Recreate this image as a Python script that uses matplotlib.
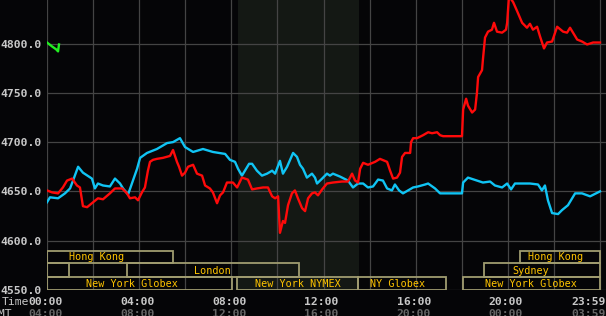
import numpy as np
import matplotlib.pyplot as plt
from matplotlib.patches import Rectangle
from matplotlib.transforms import blended_transform_factory

# hours since 00:00 and price
green_t = [0.0, 0.22, 0.40, 0.48, 0.52]
green_v = [4801, 4797, 4794, 4792, 4799]

cyan_t = [0.0, 0.13, 0.48, 0.78, 1.0, 1.13, 1.35, 1.56, 1.95, 2.08, 2.21, 2.43, 2.73,
          2.95, 3.17, 3.30, 3.52, 3.73, 3.91, 4.04, 4.34, 4.77, 5.21, 5.47, 5.77, 5.99,
          6.34, 6.77, 7.20, 7.73, 7.94, 8.16, 8.29, 8.46, 8.59, 8.77, 8.90, 9.11, 9.33,
          9.55, 9.77, 9.90, 10.11, 10.24, 10.42, 10.68, 10.85, 10.98, 11.11, 11.28,
          11.50, 11.63, 11.72, 11.94, 12.15, 12.28, 12.41, 12.72, 13.06, 13.28, 13.50,
          13.72, 13.93, 14.15, 14.37, 14.58, 14.76, 14.97, 15.10, 15.28, 15.45, 15.67,
          15.89, 16.10, 16.41, 16.54, 16.84, 17.06, 18.01, 18.06, 18.27, 18.66, 18.92,
          19.23, 19.44, 19.75, 19.97, 20.14, 20.31, 20.53, 20.96, 21.31, 21.48, 21.61,
          21.74, 21.92, 22.18, 22.35, 22.61, 22.92, 23.22, 23.57, 24.0]
cyan_v = [4639, 4644, 4643, 4648, 4653, 4661, 4675, 4669, 4663, 4653, 4658, 4656, 4655,
          4663, 4658, 4653, 4647, 4661, 4673, 4684, 4689, 4693, 4699, 4700, 4704, 4695,
          4690, 4693, 4690, 4688, 4682, 4680, 4673, 4666, 4671, 4678, 4678, 4671, 4666,
          4668, 4671, 4668, 4681, 4668, 4675, 4689, 4685, 4677, 4673, 4664,
          4668, 4664, 4658, 4663, 4668, 4666, 4668, 4665, 4661, 4654, 4658,
          4658, 4654, 4655, 4662, 4661, 4653, 4651, 4657, 4651, 4648, 4651,
          4654, 4655, 4657, 4658, 4653, 4648, 4648, 4659, 4664, 4661, 4659,
          4660, 4656, 4654, 4658, 4652, 4658, 4658, 4658, 4657, 4651, 4656,
          4641, 4628, 4627, 4631, 4636, 4648, 4648, 4645, 4650]

red_t = [0.0, 0.22, 0.48, 0.69, 0.87, 1.09, 1.30, 1.43, 1.56, 1.74, 1.95, 2.21, 2.43,
         2.73, 2.95, 3.26, 3.47, 3.60, 3.82, 3.95, 4.12, 4.25, 4.38, 4.47, 4.60, 4.77,
         5.03, 5.34, 5.47, 5.64, 5.73, 5.86, 5.99, 6.12, 6.34, 6.51, 6.73, 6.86, 7.07,
         7.20, 7.38, 7.51, 7.64, 7.81, 8.07, 8.25, 8.46, 8.72, 8.90, 9.11, 9.38, 9.59,
         9.77, 9.90, 10.03, 10.11, 10.24, 10.33, 10.46, 10.63, 10.76, 10.89, 11.07,
         11.20, 11.33, 11.50, 11.63, 11.76, 11.94, 12.15, 12.41, 12.80, 13.06, 13.24,
         13.37, 13.50, 13.59, 13.72, 13.93, 14.24, 14.45, 14.76, 14.89, 15.02, 15.19,
         15.32, 15.41, 15.54, 15.76, 15.80, 15.89, 16.06, 16.32, 16.54, 16.71, 16.93,
         17.06, 17.19, 18.01, 18.06, 18.19, 18.27, 18.45, 18.58, 18.66, 18.71, 18.88,
         18.92, 19.01, 19.14, 19.31, 19.40, 19.53, 19.75, 19.92, 19.97, 20.05, 20.23,
         20.40, 20.62, 20.83, 20.96, 21.09, 21.27, 21.40, 21.57, 21.70, 21.92, 22.14,
         22.40, 22.57, 22.70, 23.01, 23.22, 23.44, 23.70, 24.0]
red_v = [4651, 4649, 4648, 4654, 4661, 4663, 4656, 4654, 4635, 4634, 4638, 4643, 4642,
         4648, 4653, 4653, 4648, 4643, 4644, 4641, 4649, 4654, 4671, 4680, 4682, 4683,
         4684, 4686, 4692, 4680, 4675, 4666, 4669, 4675, 4677, 4668, 4666, 4656, 4653,
         4649, 4638, 4646, 4649, 4659, 4659, 4654, 4664, 4662, 4652, 4653, 4654, 4654,
         4645, 4643, 4645, 4608, 4620, 4618, 4636, 4648, 4651, 4643, 4633,
         4630, 4643, 4648, 4649, 4646, 4652, 4658, 4659, 4660, 4660, 4668,
         4661, 4659, 4673, 4679, 4677, 4680, 4683, 4680, 4671, 4663, 4664,
         4669, 4685, 4689, 4689, 4700, 4704, 4704, 4707, 4710, 4709, 4710,
         4707, 4706, 4706, 4733, 4744, 4737, 4730, 4733, 4750, 4766, 4773,
         4784, 4806, 4812, 4814, 4821, 4812, 4811, 4814, 4821, 4848, 4842,
         4833, 4821, 4816, 4820, 4814, 4817, 4807, 4795, 4801, 4802, 4817,
         4812, 4811, 4816, 4804, 4802, 4799, 4801, 4801]

# trading sessions: name, row (0 = top), start, end, label x
sess_names = ['Hong Kong', '', 'London', 'New York Globex', 'New York NYMEX',
              'NY Globex', 'New York Globex', 'Sydney', 'Hong Kong']
sess_rows = [0, 1, 1, 2, 2, 2, 2, 1, 0]
sess_start = [0, 0, 3.47, 0, 8.25, 13.5, 18.06, 18.96, 20.53]
sess_end = [5.47, 0.95, 10.94, 8.03, 13.5, 17.32, 24.0, 24.0, 24.0]
sess_labx = [2.13, 0, 7.18, 3.67, 10.9, 15.23, 21.0, 20.98, 22.07]

yticks = [4550, 4600, 4650, 4700, 4750, 4800]
xticks_top = ['00:00', '04:00', '08:00', '12:00', '16:00', '20:00', '23:59']
xticks_gmt = ['04:00', '08:00', '12:00', '16:00', '20:00', '00:00', '03:59']
xtick_pos = [0, 4, 8, 12, 16, 20, 24]

bg = '#050507'
grid_c = '#444444'
mono = 'DejaVu Sans Mono'

fig = plt.figure(figsize=(6.06, 3.16), dpi=100, facecolor=bg)
ax = fig.add_axes([47/606, 26/316, 559/606, 290/316])
ax.set_facecolor(bg)
ax.set_xlim(0, 24*559/553)
ax.set_ylim(4550, 4550 + 290*50/49.3)

# NYMEX pit hours shading
ax.axvspan(8.29, 13.54, color='#141814', zorder=0, lw=0)

for h in range(0, 25, 2):
    ax.axvline(h, color=grid_c, lw=0.9, zorder=1)
for v in yticks:
    ax.axhline(v, color=grid_c, lw=0.9, zorder=1)

ax.plot(cyan_t, cyan_v, color='#10c4f4', lw=1.7, zorder=3)
ax.plot(red_t, red_v, color='#ff0a0a', lw=1.7, zorder=4)
ax.plot(green_t, green_v, color='#22ee22', lw=1.7, zorder=4)

row_top = [4590, 4577, 4563.5]
row_bot = [4577, 4563.5, 4550]
for name, r, s, e, lx in zip(sess_names, sess_rows, sess_start, sess_end, sess_labx):
    ax.add_patch(Rectangle((s, row_bot[r]), e - s, row_top[r] - row_bot[r],
                           fill=False, ec='#a09c70', lw=1.3, zorder=5))
    if name:
        ax.text(lx, (row_top[r] + row_bot[r]) / 2 - 0.5, name, color='#ffc400',
                fontsize=7.3, family=mono, ha='center', va='center', zorder=6)

for sp in ax.spines.values():
    sp.set_visible(False)
ax.set_xticks([])
ax.set_yticks(yticks)
ax.set_yticklabels(['%.1f' % v for v in yticks], family=mono, fontsize=8.2,
                   fontweight='bold', color='#c8c8c8')
ax.tick_params(axis='y', length=0, pad=4)

# time axis labels, two rows (second one runs off the bottom like the original)
tr = blended_transform_factory(ax.transData, fig.transFigure)
for i, (p, a, b) in enumerate(zip(xtick_pos, xticks_top, xticks_gmt)):
    if i == len(xtick_pos) - 1:
        fig.text(1.0, 1 - 302/316, a, ha='right', va='center', family=mono,
                 fontsize=8.2, fontweight='bold', color='#c8c8c8')
        fig.text(1.0, 1 - 314/316, b, ha='right', va='center', family=mono,
                 fontsize=8.2, fontweight='bold', color='#666666')
    else:
        ax.text(p - 0.08, 1 - 302/316, a, transform=tr, ha='center', va='center',
                family=mono, fontsize=8.2, fontweight='bold', color='#c8c8c8')
        ax.text(p - 0.08, 1 - 314/316, b, transform=tr, ha='center', va='center',
                family=mono, fontsize=8.2, fontweight='bold', color='#666666')
fig.text(2/606, 1 - 302/316, 'Time', ha='left', va='center', family=mono,
         fontsize=8.2, color='#c8c8c8')
fig.text(12/606, 1 - 314/316, 'GMT', ha='right', va='center', family=mono,
         fontsize=8.2, color='#c8c8c8')

fig.savefig('out.png', dpi=100, facecolor=bg)
